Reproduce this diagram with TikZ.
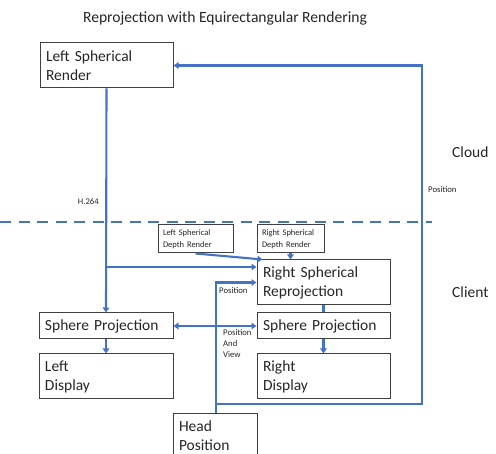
\documentclass[tikz,border=0pt]{standalone}
\usepackage{fontspec}
\setmainfont{Carlito}
\usetikzlibrary{arrows.meta}
\definecolor{flowblue}{HTML}{4472C4}
\definecolor{boxgray}{HTML}{404040}
\definecolor{txt}{HTML}{262626}
\tikzset{
  bigbox/.style={draw=boxgray, line width=1pt, fill=white, rectangle, inner xsep=6pt, inner ysep=0pt,
    align=left, font=\fontsize{15.5}{19}\selectfont, text=txt},
  twoline/.style={bigbox, text width=#1, minimum height=45pt},
  oneline/.style={bigbox, text width=#1, minimum height=26pt},
  smallbox/.style={draw=boxgray, line width=1pt, fill=white, rectangle, inner xsep=5pt, inner ysep=0pt,
    align=left, font=\fontsize{8.5}{11.5}\selectfont, text=txt, minimum height=28pt},
  flow/.style={draw=flowblue, line width=2.1pt},
  arr/.style={-{Triangle[length=5pt,width=6.5pt]}},
  biarr/.style={{Triangle[length=5pt,width=6.5pt]}-{Triangle[length=5pt,width=6.5pt]}},
  lbl/.style={font=\fontsize{8.7}{11}\selectfont, text=txt, inner sep=0pt, align=left},
  side/.style={font=\fontsize{15.5}{17}\selectfont, text=txt, inner sep=0pt, anchor=west},
}
\begin{document}
\begin{tikzpicture}[x=1pt,y=-1pt]
\useasboundingbox (0,0) rectangle (496,454);
\clip (0,0) rectangle (496,454);
\fill[white] (0,0) rectangle (496,454);

% title
\node[font=\fontsize{15.6}{18}\selectfont, text=txt, inner sep=0pt] (title) at (225,18) {Reprojection with Equirectangular Rendering};

% side labels
\node[side] (cloud) at (452,152) {Cloud};
\node[side] (client) at (452,292) {Client};

% dashed separator
\coordinate (dl) at (0,222);
\coordinate (dr) at (432,222);
\draw[draw=flowblue, line width=2.6pt, dash pattern=on 11pt off 7.5pt] (dl) -- (dr);

% boxes
\node[twoline=121pt] (LSR) at (106.5,65.5) {Left Spherical\\Render};
\node[twoline=121pt] (RSR) at (323.5,282.5) {Right Spherical\\Reprojection};
\node[oneline=122pt] (SPL) at (106,326) {Sphere Projection};
\node[oneline=121pt] (SPR) at (323.5,326) {Sphere Projection};
\node[twoline=122pt] (LD) at (106,376.5) {Left\\Display};
\node[twoline=121pt] (RD) at (323.5,376.5) {Right\\Display};
\node[twoline=72pt, anchor=north] (HP) at (215,413) {Head\\Position};
\node[smallbox, text width=65pt] (LSDR) at (195.5,239) {Left Spherical\\Depth Render};
\node[smallbox, text width=57pt] (RSDR) at (290.5,239) {Right Spherical\\Depth Render};

% connectors
\coordinate (split) at (106.5,267);
\coordinate (hj) at (216,404);
\coordinate (rc) at (422,404);
\coordinate (ltarget) at ([xshift=6pt]RSR.north west);

\draw[flow,arr] (LSR.south) -- (SPL.north);
\draw[flow,arr] (split) -- (RSR.west |- split);
\draw[flow,arr] (LSDR.south) -- (ltarget);
\draw[flow,arr] (RSDR.south) -- (RSDR.south |- RSR.north);
\draw[flow] (RSR.south) -- (SPR.north);
\draw[flow,arr] (SPL.south) -- (LD.north);
\draw[flow,arr] (SPR.south) -- (RD.north);
\draw[flow,biarr] (SPL.east) -- (SPR.west);
\draw[flow,arr] (HP.north -| hj) |- (RSR.west);
\draw[flow,arr] (hj) -- (rc) |- (LSR.east);

% labels
\node[lbl, anchor=east] (h264) at (99,202) {H.264};
\node[lbl, anchor=west] (pos1) at (428,190) {Position};
\node[lbl, anchor=west] (pos2) at (219,291) {Position};
\node[lbl, anchor=north west] (pav) at (223,329) {Position\\And\\View};
\end{tikzpicture}
\end{document}
